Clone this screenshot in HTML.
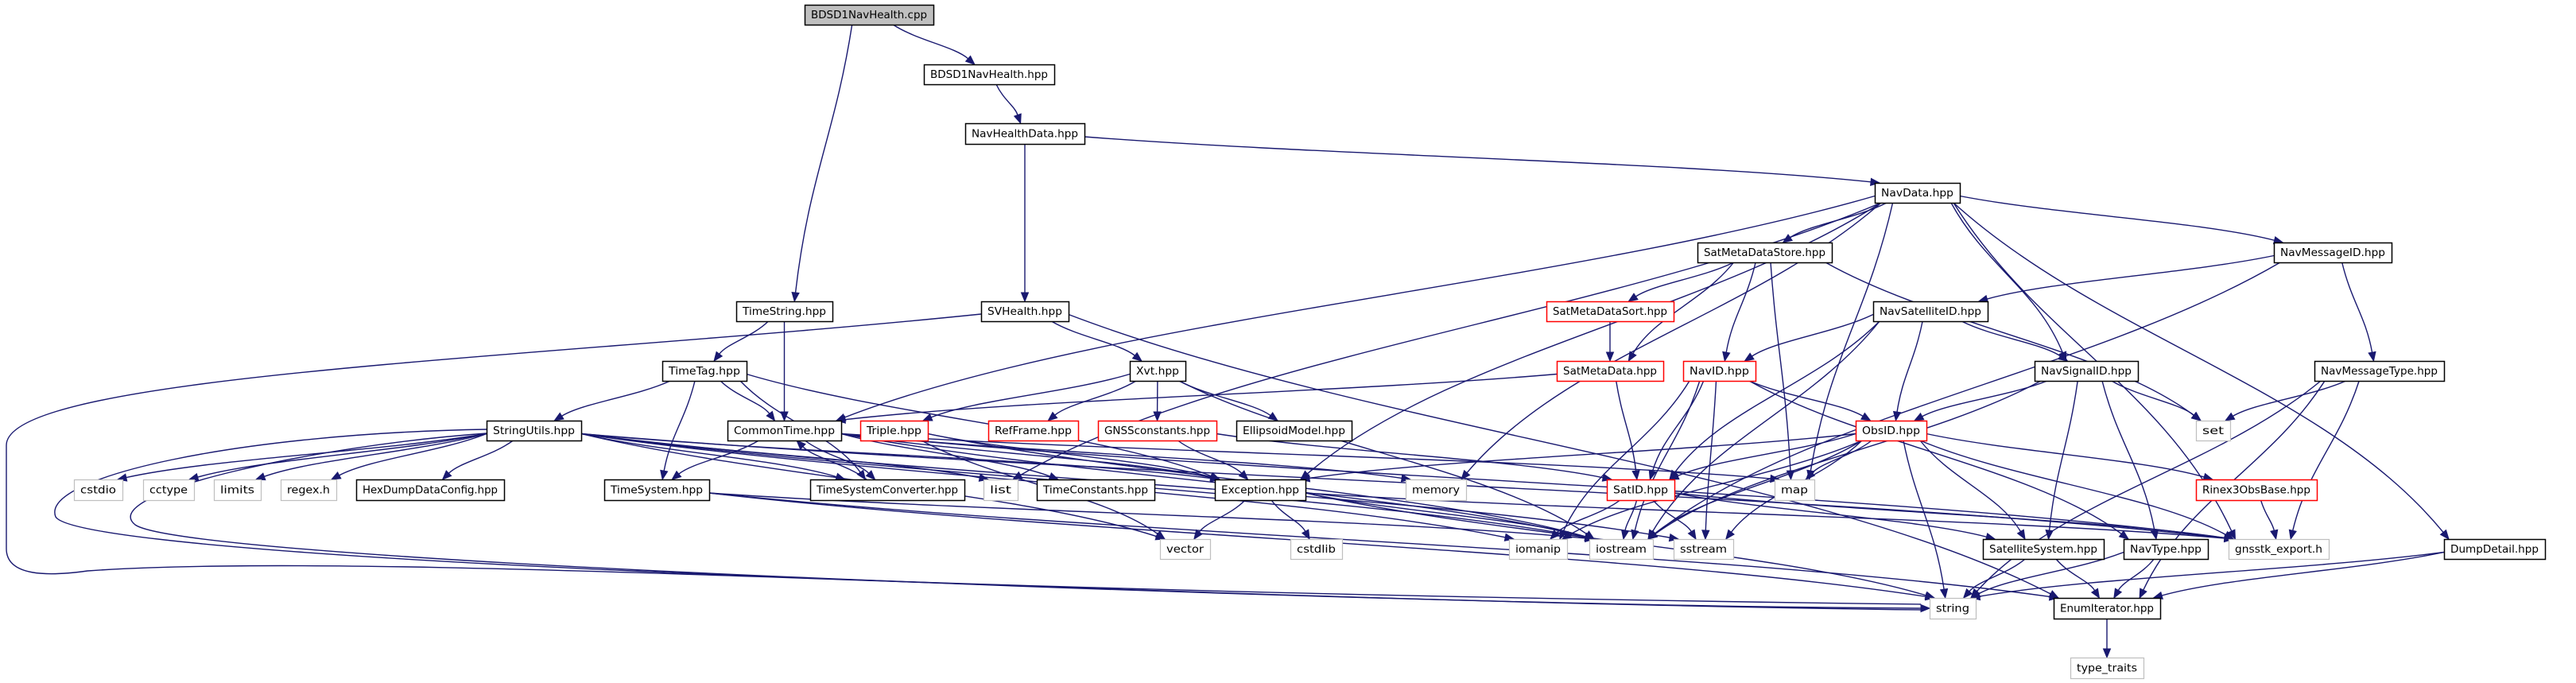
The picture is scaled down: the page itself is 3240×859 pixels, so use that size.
<!DOCTYPE html>
<html><head><meta charset="utf-8">
<style>
html,body{margin:0;padding:0;background:#fff;}
svg{display:block;}
text{font-family:"DejaVu Sans","Liberation Sans",sans-serif;font-size:13px;fill:#000;}
</style></head>
<body>
<svg id="g" xmlns="http://www.w3.org/2000/svg" width="3240" height="859" viewBox="0 0 3240 859">
<g id="edges" fill="none" stroke="#191970" stroke-width="1.4"></g>
<g id="heads" fill="#191970" stroke="#191970" stroke-width="1"></g>
<g id="nodes"></g>
</svg>
<script>
var N={
A:[1012,1174,6,31,'BDSD1NavHealth.cpp','a'],
B:[1162,1326,81,106,'BDSD1NavHealth.hpp','b'],
C:[1214,1364,155,181,'NavHealthData.hpp','b'],
D:[2358,2465,230,255,'NavData.hpp','b'],
E:[2135,2304,305,330,'SatMetaDataStore.hpp','b'],
F:[2860,3008,305,330,'NavMessageID.hpp','b'],
G:[926,1047,379,404,'TimeString.hpp','b'],
H:[1234,1344,379,404,'SVHealth.hpp','b'],
I:[1945,2105,379,404,'SatMetaDataSort.hpp','r'],
J:[2356,2500,379,404,'NavSatelliteID.hpp','b'],
K:[833,939,454,479,'TimeTag.hpp','b'],
L:[1421,1491,454,479,'Xvt.hpp','b'],
M:[1958,2092,454,479,'SatMetaData.hpp','r'],
Nn:[2117,2208,454,479,'NavID.hpp','r'],
O:[2559,2689,454,479,'NavSignalID.hpp','b'],
P:[2911,3074,454,479,'NavMessageType.hpp','b'],
Q:[612,731,529,554,'StringUtils.hpp','b'],
R:[915,1058,529,554,'CommonTime.hpp','b'],
S:[1082,1167,529,554,'Triple.hpp','r'],
T:[1243,1356,529,554,'RefFrame.hpp','r'],
U:[1381,1530,529,554,'GNSSconstants.hpp','r'],
V:[1555,1700,529,554,'EllipsoidModel.hpp','b'],
W:[2334,2423,529,554,'ObsID.hpp','r'],
X:[2762,2805,529,554,'set','g'],
cstdio:[93,154,603,629,'cstdio','g'],
cctype:[180,244,603,629,'cctype','g'],
limits:[269,328,603,629,'limits','g'],
regex:[353,423,603,629,'regex.h','g'],
hex:[448,634,603,629,'HexDumpDataConfig.hpp','b'],
tsys:[760,892,603,629,'TimeSystem.hpp','b'],
tsc:[1019,1213,603,629,'TimeSystemConverter.hpp','b'],
list:[1237,1280,603,629,'list','g'],
tcon:[1304,1452,603,629,'TimeConstants.hpp','b'],
exc:[1528,1642,603,629,'Exception.hpp','b'],
memory:[1768,1844,603,629,'memory','g'],
satid:[2021,2106,603,629,'SatID.hpp','r'],
map:[2232,2282,603,629,'map','g'],
rinex:[2762,2914,603,629,'Rinex3ObsBase.hpp','r'],
vector:[1459,1522,678,703,'vector','g'],
cstdlib:[1623,1688,678,703,'cstdlib','g'],
iomanip:[1898,1971,678,703,'iomanip','g'],
iostream:[1999,2079,678,703,'iostream','g'],
sstream:[2105,2180,678,703,'sstream','g'],
satsys:[2494,2646,678,703,'SatelliteSystem.hpp','b'],
navtype:[2671,2777,678,703,'NavType.hpp','b'],
gexp:[2803,2929,678,703,'gnsstk_export.h','g'],
dump:[3074,3201,678,703,'DumpDetail.hpp','b'],
string:[2427,2485,752,778,'string','g'],
enumit:[2583,2717,752,778,'EnumIterator.hpp','b'],
tt:[2604,2696,827,853,'type_traits','g']
};
var E=[
['A','B'],['A','G'],['B','C'],['C','D'],['C','H'],
['D','E'],['D','F'],['D','O'],['D','R'],['D','exc'],['D','list'],['D','memory'],['D','map'],['D','gexp'],['D','dump'],
['E','I'],['E','M'],['E','Nn'],['E','map'],['E','X'],
['F','J'],['F','P'],['F','iostream'],
['G','K'],['G','R'],
['H','L'],['H','enumit'],
['I','M'],
['J','Nn'],['J','W'],['J','O'],['J','satid'],['J','iostream'],
['K','Q'],['K','R'],['K','tsys'],['K','tsc'],['K','exc'],
['L','S'],['L','T'],['L','U'],['L','V'],['L','iostream'],
['M','R'],['M','satid'],
['Nn','W'],['Nn','satid'],['Nn','iomanip'],['Nn','iostream'],['Nn','sstream'],['Nn','navtype'],
['O','W'],['O','X'],['O','satsys'],['O','navtype'],['O','iostream'],
['P','X'],['P','gexp'],['P','enumit'],['P','string'],
['Q','cstdio'],['Q','cctype'],['Q','limits'],['Q','regex'],['Q','hex'],['Q','exc'],['Q','list'],['Q','vector'],['Q','iomanip'],['Q','iostream'],['Q','sstream'],['Q','gexp'],['Q','tsc'],
['R','tsys'],['R','tsc'],['R','exc'],['R','tcon'],['R','memory'],['R','gexp'],['R','iostream'],['R','map'],
['S','exc'],['S','vector'],['S','iostream'],
['U','exc'],['U','satid'],
['tsc','R'],
['W','exc'],['W','satid'],['W','map'],['W','iomanip'],['W','iostream'],['W','sstream'],['W','string'],['W','rinex'],['W','gexp'],['W','satsys'],
['tsys','string'],['tsys','iostream'],['tsys','enumit'],
['exc','vector'],['exc','cstdlib'],['exc','string'],['exc','iostream'],['exc','gexp'],
['satid','iomanip'],['satid','iostream'],['satid','sstream'],['satid','satsys'],['satid','gexp'],
['rinex','gexp'],
['satsys','string'],['satsys','enumit'],
['navtype','string'],['navtype','enumit'],
['dump','string'],['dump','enumit'],
['enumit','tt']
];
var NS='http://www.w3.org/2000/svg';
function el(t,a,p){var e=document.createElementNS(NS,t);for(var k in a)e.setAttribute(k,a[k]);p.appendChild(e);return e;}
function cl(v,a,b){return Math.max(a,Math.min(b,v));}
var eg=document.getElementById('edges'),hg=document.getElementById('heads'),ng=document.getElementById('nodes');
function arrow(x,y,px,py){var dx=x-px,dy=y-py,l=Math.sqrt(dx*dx+dy*dy)||1;dx/=l;dy/=l;var bx=x-dx*11,by=y-dy*11;
el('polygon',{points:x+','+y+' '+(bx-dy*4.5)+','+(by+dx*4.5)+' '+(bx+dy*4.5)+','+(by-dx*4.5)},hg);return [bx,by];}
E.forEach(function(e){var a=N[e[0]],b=N[e[1]];var sc=(a[0]+a[1])/2,tc=(b[0]+b[1])/2;var sx,sy,ex,ey;
 var up=!(b[2]>a[2]);
 if(!up){sy=a[3];ey=b[2];}else{sy=a[2];ey=b[3];}
 sx=cl(sc+(tc-sc)*0.2,a[0]+8,a[1]-8);ex=cl(tc+(sc-tc)*0.12,b[0]+6,b[1]-6);
 var vdy=Math.abs(b[2]-a[2]);
 if(!up && Math.abs(tc-sc)>3.5*vdy){ // side exit
   if(tc<sc){sx=a[0];}else{sx=a[1];}
   sy=(a[2]+a[3])/2+4;
 }
 var dy=ey-sy,dx=ex-sx;
 var c1x=sx+dx*0.3,c1y=sy+dy*0.4,c2x=ex-dx*0.25,c2y=ey-dy*0.45;
 var h=arrow(ex,ey,c2x,c2y);
 el('path',{d:'M'+sx+','+sy+' C'+c1x+','+c1y+' '+c2x+','+c2y+' '+h[0]+','+h[1]},eg);});
// special long curves
el('path',{d:'M1234,395 C700,450 8,470 8,560 L8,690 C8,725 60,725 110,718 C500,690 1500,760 2416,765'},eg);
arrow(2427,765,2400,765);
el('path',{d:'M612,540 C300,545 50,600 70,650 C100,700 1200,745 2416,760'},eg);
el('path',{d:'M612,545 C400,560 120,620 170,660 C240,710 1800,760 2416,767'},eg);
for(var k in N){var n=N[k];var w=n[1]-n[0],h=n[3]-n[2];
 var fill=n[5]=='a'?'#bfbfbf':'#fff';var st=n[5]=='r'?'#ff0000':(n[5]=='g'?'#bfbfbf':'#000');
 el('rect',{x:n[0]+0.5,y:n[2]+0.5,width:w,height:h,fill:fill,stroke:st,'stroke-width':n[5]=='g'?1.2:1.5},ng);
 var t=el('text',{x:(n[0]+n[1])/2,y:n[2]+h/2+4.5,'text-anchor':'middle',textLength:w-16,lengthAdjust:'spacingAndGlyphs'},ng);
 t.textContent=n[4];}
</script>
</body></html>
